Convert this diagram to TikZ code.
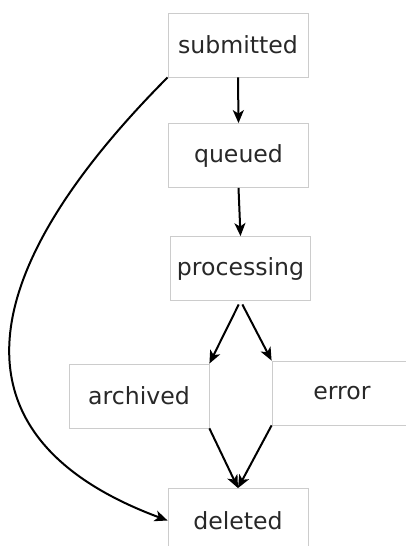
\documentclass[tikz,border=0pt]{standalone}
\usepackage{fontspec}
\setmainfont{DejaVu Sans}
\usepackage{tikz}
\usetikzlibrary{arrows.meta,positioning}
\usepackage{xcolor}
\definecolor{jobgray}{RGB}{204,204,204}
\definecolor{jobtext}{RGB}{40,40,40}
\tikzstyle{arrow} = [line width=2pt,-{Stealth[length=13pt,width=11pt,inset=3.5pt]},color=black]
\tikzstyle{statebox} = [rectangle, minimum width=140pt, minimum height=64pt, text centered, draw=jobgray, line width=0.8pt, text=jobtext, inner sep=0pt]

\begin{document}
\begin{tikzpicture}[
    x=1pt, y=1pt,
    every node/.style={font=\fontsize{23.6}{28}\selectfont}
]
\useasboundingbox (0,0) rectangle (405,-546);

% Main chain
\node[statebox] (submitted) at (238,-45) {submitted};
\node[statebox] (queued) at (238.5,-155.5) {queued};
\node[statebox] (processing) at (240.5,-268.5) {processing};

% Outcomes
\node[statebox] (archived) at (139,-396) {archived};
\node[statebox] (error) at (342,-393) {error};
\node[statebox] (deleted) at (238,-520.5) {deleted};

% Connections
\draw[arrow] (submitted.south) -- (queued.north);
\draw[arrow] (queued.south) -- (processing.north);
\draw[arrow, shorten <=4pt] (processing.south) -- (archived.north east);
\draw[arrow, shorten <=4pt] (processing.south) -- (error.north west);
\draw[arrow] (archived.south east) -- (deleted.north);
\draw[arrow] (error.south west) -- (deleted.north);
\draw[arrow] (submitted.south west) .. controls (-32,-278) and (-52,-439) .. (deleted.west);

\end{tikzpicture}
\end{document}
